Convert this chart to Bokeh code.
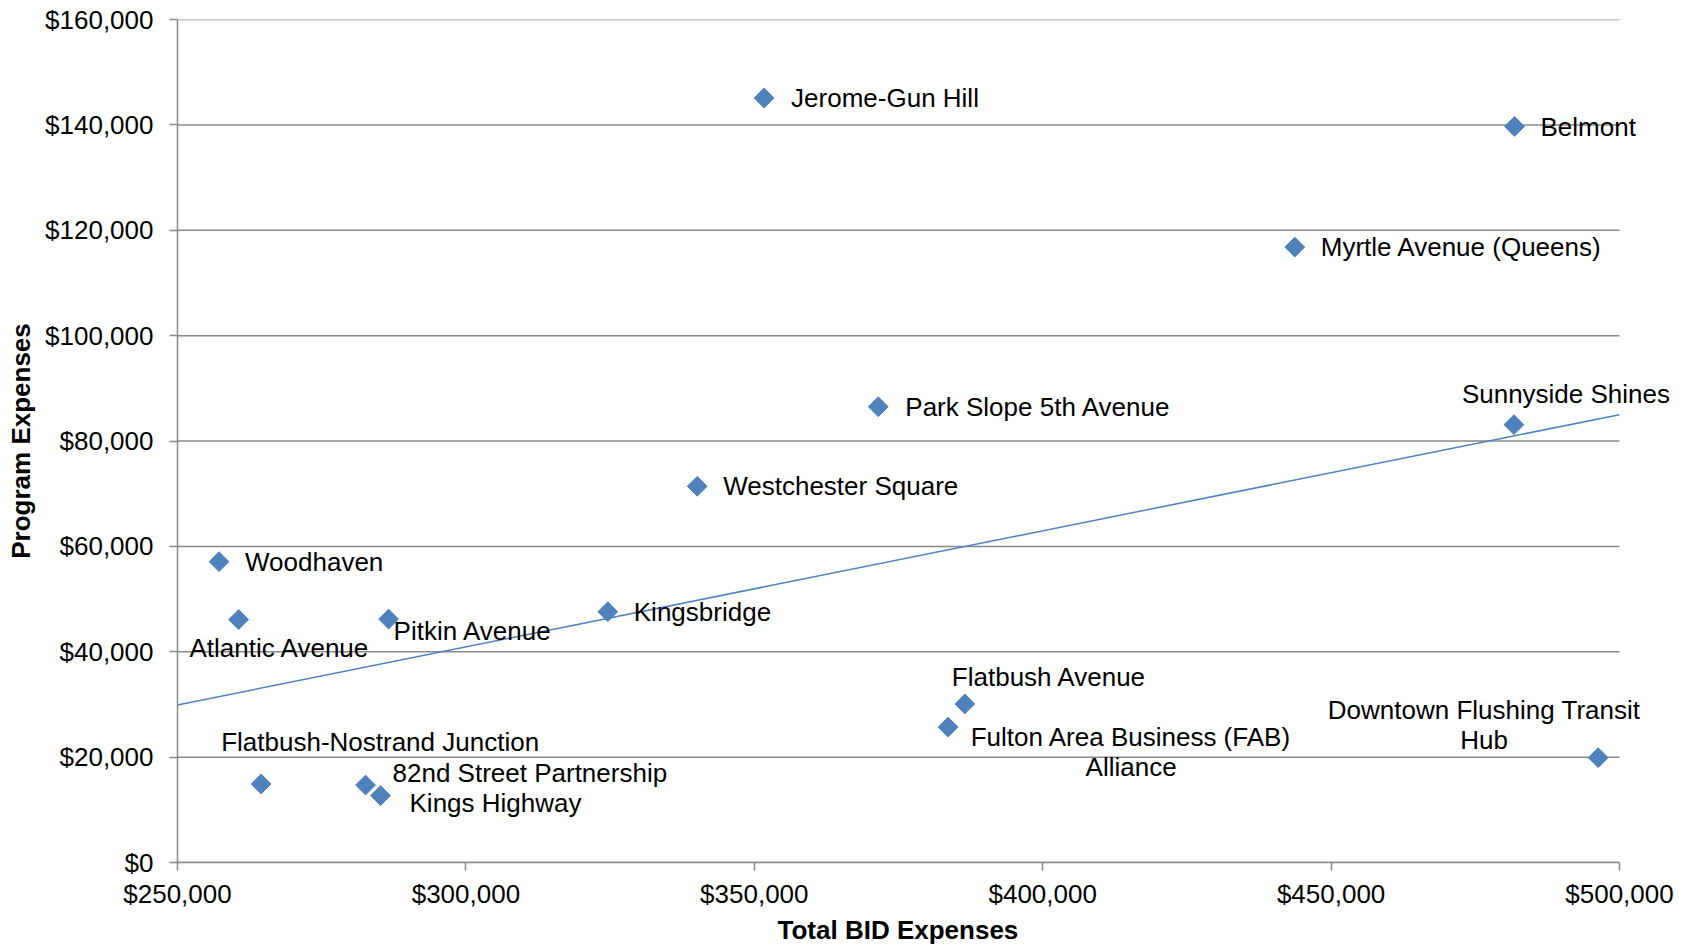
import numpy as np
from bokeh.plotting import figure
from bokeh.models import (Range1d, FixedTicker, NumeralTickFormatter, ColumnDataSource,
                          LabelSet, Title)
from bokeh.core.properties import value
from bokeh.embed import file_html
from bokeh.resources import INLINE

# ---- data ----
names = ["Jerome-Gun Hill", "Belmont", "Myrtle Avenue (Queens)", "Park Slope 5th Avenue",
         "Sunnyside Shines", "Westchester Square", "Woodhaven", "Atlantic Avenue",
         "Pitkin Avenue", "Kingsbridge", "Flatbush Avenue",
         "Fulton Area Business (FAB)\nAlliance", "Downtown Flushing Transit\nHub",
         "Flatbush-Nostrand Junction", "82nd Street Partnership", "Kings Highway"]
total_bid_expenses = [351700, 481800, 443700, 371500, 481700, 340100, 257200, 260600,
                      286600, 324600, 386500, 383600, 496300, 264500, 282600, 285200]
program_expenses = [145100, 139700, 116800, 86500, 83100, 71400, 57100, 46100,
                    46200, 47600, 30100, 25700, 19900, 14900, 14700, 12700]
trend_x = [250000, 500000]
trend_y = [29900, 85000]
x_ticks = [250000, 300000, 350000, 400000, 450000, 500000]
y_ticks = [0, 20000, 40000, 60000, 80000, 100000, 120000, 140000, 160000]

# ---- label styling (screen-pixel offsets of the label block centre, y down) ----
label_dx = [27, 26, 26, 27, 52, 26, 26, 41, 5, 26, -13, 183, -114, 119, 27, 29]
label_dy = [0, 1, 0, 0, -31, 0, 0, 28, 12, 0, -27, 25, -33, -42, -12, 7]
label_align = ["left", "left", "left", "left", "center", "left", "left", "center",
               "left", "left", "left", "center", "center", "center", "left", "left"]
LINE_H = 30

FONT = "Liberation Sans"
BLUE = "#4F81BD"
GRAY = "#898989"

W, H = 1692, 947
LEFT, TOP, BOTTOM = 177, 19, 85
X0, X1 = x_ticks[0], x_ticks[-1]
axis_px = 1442  # pixel length of the 250k-500k axis
frame_w = W - LEFT
x_end = X0 + (X1 - X0) * frame_w / axis_px  # let labels run past the last tick unclipped

p = figure(width=W, height=H, output_backend="svg", toolbar_location=None,
           x_range=Range1d(X0, x_end), y_range=Range1d(y_ticks[0], y_ticks[-1]),
           min_border_left=LEFT, min_border_right=0, min_border_top=TOP,
           min_border_bottom=BOTTOM)
p.outline_line_color = None
p.background_fill_color = "white"
p.border_fill_color = "white"

p.xgrid.grid_line_color = None
p.ygrid.grid_line_color = None
# horizontal gridlines spanning only the axis extent
p.segment(x0=[X0] * len(y_ticks), x1=[X1] * len(y_ticks), y0=y_ticks, y1=y_ticks,
          line_color=GRAY, line_width=1.5)

for ax in (p.xaxis[0], p.yaxis[0]):
    ax.axis_line_color = GRAY
    ax.axis_line_width = 1.5
    ax.major_tick_line_color = GRAY
    ax.major_tick_line_width = 1.5
    ax.major_tick_out = 8
    ax.major_tick_in = 0
    ax.minor_tick_line_color = None
    ax.major_label_text_font = FONT
    ax.major_label_text_font_size = "26px"
    ax.major_label_text_color = "black"
    ax.axis_label_text_font = FONT
    ax.axis_label_text_font_size = "26px"
    ax.axis_label_text_font_style = "bold"
    ax.axis_label_text_color = "black"
    ax.formatter = NumeralTickFormatter(format="$0,0")

p.xaxis[0].ticker = FixedTicker(ticks=x_ticks)
p.xaxis[0].bounds = (X0, X1)
p.yaxis[0].ticker = FixedTicker(ticks=y_ticks)
p.yaxis[0].axis_label = "Program Expenses"
p.xaxis[0].major_label_standoff = 8
p.yaxis[0].major_label_standoff = 16
p.yaxis[0].axis_label_standoff = 6

# x-axis title centred on the 250k-500k axis (frame extends further right)
TITLE_HALF_W = 121  # half width of the bold 26px title text
p.add_layout(Title(text="Total BID Expenses", align="left",
                   offset=axis_px / 2 - TITLE_HALF_W, standoff=2,
                   text_font=FONT, text_font_size="26px", text_font_style="bold",
                   text_color="black"), "below")

# trendline
p.line(trend_x, trend_y, line_color=BLUE, line_width=1.5)

src = ColumnDataSource(dict(x=total_bid_expenses, y=program_expenses))
p.scatter("x", "y", source=src, marker="square", angle=np.pi / 4, size=14,
          fill_color=BLUE, line_color=BLUE)

for align in ("left", "center"):
    rows = dict(x=[], y=[], name=[], dx=[], dy=[])
    for i, a in enumerate(label_align):
        if a != align:
            continue
        lines = names[i].split("\n")
        n = len(lines)
        for k, line in enumerate(lines):
            rows["x"].append(total_bid_expenses[i])
            rows["y"].append(program_expenses[i])
            rows["name"].append(line)
            rows["dx"].append(label_dx[i])
            rows["dy"].append(-(label_dy[i] + (k - (n - 1) / 2) * LINE_H))
    p.add_layout(LabelSet(x="x", y="y", text="name", source=ColumnDataSource(rows),
                          x_offset="dx", y_offset="dy",
                          text_align=align, text_baseline="middle", text_font=value(FONT),
                          text_font_size="26px", text_color="black"))

open("out.html", "w").write(file_html(p, INLINE))
